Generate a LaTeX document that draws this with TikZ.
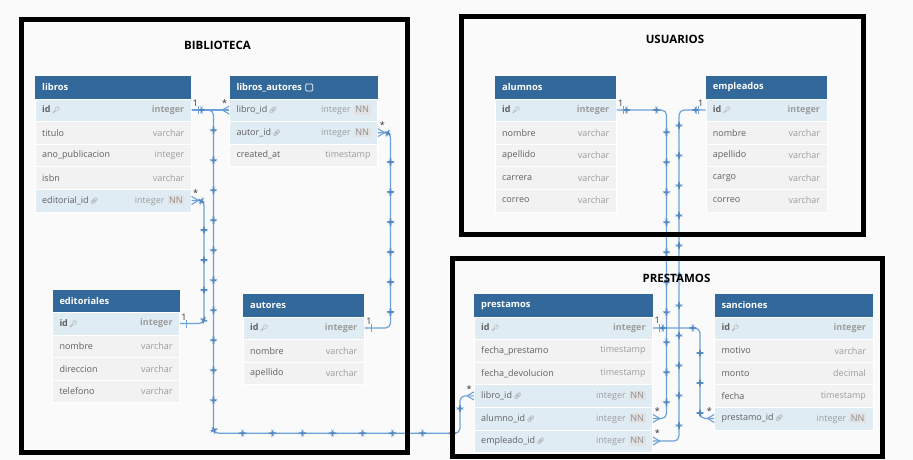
\documentclass[tikz,border=0pt]{standalone}
\usepackage{fontspec}
\setmainfont{Open Sans}
\newfontfamily\emojifont{Noto Emoji}
\usetikzlibrary{decorations.markings,calc}

\definecolor{bgc}{HTML}{FAFAFA}
\definecolor{hdr}{HTML}{33689A}
\definecolor{keyrow}{HTML}{DFECF4}
\definecolor{plainrow}{HTML}{F2F2F2}
\definecolor{fieldc}{HTML}{606060}
\definecolor{typec}{HTML}{9C9C9C}
\definecolor{iconc}{HTML}{8A8A8A}
\definecolor{nnbg}{HTML}{E2E2E2}
\definecolor{nnc}{HTML}{8C8C8C}
\definecolor{linec}{HTML}{6CA2D8}
\definecolor{dotc}{HTML}{5288C2}

\newcommand\keyic{\,{\emojifont\fontsize{6.5}{7}\selectfont\color{iconc}🔑}}
\newcommand\linkic{\,{\emojifont\fontsize{6.5}{7}\selectfont\color{iconc}🔗}}
\newcommand\nnbadge{\hspace{3pt}{\setlength\fboxsep{1.6pt}\colorbox{nnbg}{\color{nnc}NN}}}

\tikzset{
  rowbox/.style={rectangle, inner sep=0pt, minimum height=22.6pt, anchor=north west, draw=white, line width=0.5pt},
  hdrbox/.style={rectangle, inner sep=0pt, minimum height=22.5pt, anchor=north west, fill=hdr},
  hdrtxt/.style={inner sep=0pt, anchor=west, text=white, font=\fontsize{9.3}{11}\selectfont\bfseries},
  fieldtxt/.style={inner sep=0pt, anchor=west, text=fieldc, font=\fontsize{9}{11}\selectfont},
  typetxt/.style={inner sep=0pt, anchor=east, text=typec, font=\fontsize{9}{11}\selectfont},
  conn/.style={draw=linec, line width=1.2pt},
  dotline/.style={postaction={decorate}, decoration={markings,
     mark=between positions 10pt and -10pt step 30pt with {\path[fill=dotc, draw=none] (-0.9pt,-0.9pt) rectangle (0.9pt,0.9pt);}}},
  card/.style={inner sep=0pt, anchor=base, text=black!80, font=\fontsize{9}{10}\selectfont},
  grptitle/.style={inner sep=0pt, text=black, font=\fontsize{11.5}{13}\selectfont\bfseries},
  grpframe/.style={draw=black, line width=5pt},
}

% name, x, y(top), width, title
\newcommand\dbhead[5]{%
  \node[hdrbox, minimum width=#4pt] (#1) at (#2,#3) {};
  \node[hdrtxt] (#1-t) at ([xshift=7pt]#1.west) {#5};
}
% name, x, y(top), width, fill, field, type
\newcommand\dbrow[7]{%
  \node[rowbox, fill=#5, minimum width=#4pt] (#1) at (#2,#3) {};
  \node[fieldtxt] (#1-f) at ([xshift=7pt]#1.west) {#6};
  \node[typetxt] (#1-t) at ([xshift=-7pt]#1.east) {#7};
}
% anchor name (no parentheses), direction
\newcommand\crow[2]{%
  \draw[conn, line width=1.1pt] ([xshift=#2*7pt]#1) -- ([yshift=4pt]#1)
        ([xshift=#2*7pt]#1) -- ([yshift=-4pt]#1);
}
\newcommand\onebar[2]{%
  \draw[conn, line width=1.1pt] ([xshift=#2*7pt, yshift=4pt]#1) -- ([xshift=#2*7pt, yshift=-4pt]#1);
}

\begin{document}
\begin{tikzpicture}[x=1pt, y=-1pt]
\useasboundingbox (0,0) rectangle (913,460);
\fill[bgc] (0,0) rectangle (913,460);

% ---------- libros
\dbhead{lb}{35}{76}{156}{libros}
\dbrow{lb-id}{35}{98.5}{156}{keyrow}{\textbf{id}\keyic}{\textbf{integer}}
\dbrow{lb-tit}{35}{121.1}{156}{plainrow}{titulo}{varchar}
\dbrow{lb-ano}{35}{143.7}{156}{plainrow}{ano\_publicacion}{integer}
\dbrow{lb-isbn}{35}{166.3}{156}{plainrow}{isbn}{varchar}
\dbrow{lb-ed}{35}{188.9}{156}{keyrow}{editorial\_id\linkic}{integer\nnbadge}

% ---------- libros_autores
\dbhead{la}{229.3}{76}{148}{libros\_autores}
\draw[white, line width=0.7pt, rounded corners=1pt] ([xshift=3.5pt, yshift=-3.5pt]la-t.east) rectangle ++(7pt,7pt);
\dbrow{la-lib}{229.3}{98.5}{148}{keyrow}{libro\_id\linkic}{integer\nnbadge}
\dbrow{la-aut}{229.3}{121.1}{148}{keyrow}{autor\_id\linkic}{integer\nnbadge}
\dbrow{la-cre}{229.3}{143.7}{148}{plainrow}{created\_at}{timestamp}

% ---------- editoriales
\dbhead{ed}{52.3}{289.5}{127}{editoriales}
\dbrow{ed-id}{52.3}{312}{127}{keyrow}{\textbf{id}\keyic}{\textbf{integer}}
\dbrow{ed-nom}{52.3}{334.6}{127}{plainrow}{nombre}{varchar}
\dbrow{ed-dir}{52.3}{357.2}{127}{plainrow}{direccion}{varchar}
\dbrow{ed-tel}{52.3}{379.8}{127}{plainrow}{telefono}{varchar}

% ---------- autores
\dbhead{au}{243}{294}{121}{autores}
\dbrow{au-id}{243}{316.5}{121}{keyrow}{\textbf{id}\keyic}{\textbf{integer}}
\dbrow{au-nom}{243}{339.1}{121}{plainrow}{nombre}{varchar}
\dbrow{au-ape}{243}{361.7}{121}{plainrow}{apellido}{varchar}

% ---------- alumnos
\dbhead{al}{495}{76}{121}{alumnos}
\dbrow{al-id}{495}{98.5}{121}{keyrow}{\textbf{id}\keyic}{\textbf{integer}}
\dbrow{al-nom}{495}{121.1}{121}{plainrow}{nombre}{varchar}
\dbrow{al-ape}{495}{143.7}{121}{plainrow}{apellido}{varchar}
\dbrow{al-car}{495}{166.3}{121}{plainrow}{carrera}{varchar}
\dbrow{al-cor}{495}{188.9}{121}{plainrow}{correo}{varchar}

% ---------- empleados
\dbhead{em}{705.7}{76}{121}{empleados}
\dbrow{em-id}{705.7}{98.5}{121}{keyrow}{\textbf{id}\keyic}{\textbf{integer}}
\dbrow{em-nom}{705.7}{121.1}{121}{plainrow}{nombre}{varchar}
\dbrow{em-ape}{705.7}{143.7}{121}{plainrow}{apellido}{varchar}
\dbrow{em-car}{705.7}{166.3}{121}{plainrow}{cargo}{varchar}
\dbrow{em-cor}{705.7}{188.9}{121}{plainrow}{correo}{varchar}

% ---------- prestamos
\dbhead{pr}{474}{294}{178.3}{prestamos}
\dbrow{pr-id}{474}{316.5}{178.3}{keyrow}{\textbf{id}\keyic}{\textbf{integer}}
\dbrow{pr-fp}{474}{339.1}{178.3}{plainrow}{fecha\_prestamo}{timestamp}
\dbrow{pr-fd}{474}{361.7}{178.3}{plainrow}{fecha\_devolucion}{timestamp}
\dbrow{pr-lib}{474}{384.3}{178.3}{keyrow}{libro\_id\linkic}{integer\nnbadge}
\dbrow{pr-alu}{474}{406.9}{178.3}{keyrow}{alumno\_id\linkic}{integer\nnbadge}
\dbrow{pr-emp}{474}{429.5}{178.3}{keyrow}{empleado\_id\linkic}{integer\nnbadge}

% ---------- sanciones
\dbhead{sa}{714.3}{294}{158.4}{sanciones}
\dbrow{sa-id}{714.3}{316.5}{158.4}{keyrow}{\textbf{id}\keyic}{\textbf{integer}}
\dbrow{sa-mot}{714.3}{339.1}{158.4}{plainrow}{motivo}{varchar}
\dbrow{sa-mon}{714.3}{361.7}{158.4}{plainrow}{monto}{decimal}
\dbrow{sa-fec}{714.3}{384.3}{158.4}{plainrow}{fecha}{timestamp}
\dbrow{sa-pre}{714.3}{406.9}{158.4}{keyrow}{prestamo\_id\linkic}{integer\nnbadge}

% ---------- connectors
\coordinate (v1) at (213.5,433.3);
\coordinate (v2) at (460,433.3);
\coordinate (v3) at (204,260);
\coordinate (v4) at (390.5,230);
\coordinate (v5) at (666.5,250);
\coordinate (v6) at (679,250);
\coordinate (v7) at (700,370);

\draw[conn, dotline] (lb-id.east) -- (la-lib.west);
\draw[conn, dotline, rounded corners=5pt] (lb-id.east) -| (v1) -- (v2) |- (pr-lib.west);
\draw[conn, dotline, rounded corners=5pt] (lb-ed.east) -| (v3) |- (ed-id.east);
\draw[conn, dotline, rounded corners=5pt] (la-aut.east) -| (v4) |- (au-id.east);
\draw[conn, dotline, rounded corners=5pt] (al-id.east) -| (v5) |- (pr-alu.east);
\draw[conn, dotline, rounded corners=5pt] (em-id.west) -| (v6) |- (pr-emp.east);
\draw[conn, dotline, rounded corners=5pt] (pr-id.east) -| (v7) |- (sa-pre.west);

\onebar{lb-id.east}{1}
\crow{la-lib.west}{-1}
\crow{pr-lib.west}{-1}
\crow{lb-ed.east}{1}
\onebar{ed-id.east}{1}
\crow{la-aut.east}{1}
\onebar{au-id.east}{1}
\onebar{al-id.east}{1}
\crow{pr-alu.east}{1}
\onebar{em-id.west}{-1}
\crow{pr-emp.east}{1}
\onebar{pr-id.east}{1}
\crow{sa-pre.west}{-1}

% ---------- cardinalities
\node[card] (k1) at (195.5,106.5) {1};
\node[card] (k2) at (224.5,106.5) {*};
\node[card] (k3) at (469,392.3) {*};
\node[card] (k4) at (195.7,196.7) {*};
\node[card] (k5) at (184,320) {1};
\node[card] (k6) at (382.3,128) {*};
\node[card] (k7) at (369,324.3) {1};
\node[card] (k8) at (620.7,106.7) {1};
\node[card] (k9) at (657.3,414) {*};
\node[card] (k10) at (700.7,106.7) {1};
\node[card] (k11) at (657.3,436.5) {*};
\node[card] (k12) at (657.3,323.5) {1};
\node[card] (k13) at (709.3,414) {*};

% ---------- group frames
\draw[grpframe] (21.5,19.5) rectangle (407.5,452);
\draw[grpframe] (461,16.5) rectangle (863.3,234);
\draw[grpframe] (452.5,258.5) rectangle (882.5,456.5);
\node[grptitle] (g1) at (217.5,45) {BIBLIOTECA};
\node[grptitle] (g2) at (675,39) {USUARIOS};
\node[grptitle] (g3) at (676.5,278) {PRESTAMOS};
\end{tikzpicture}
\end{document}
